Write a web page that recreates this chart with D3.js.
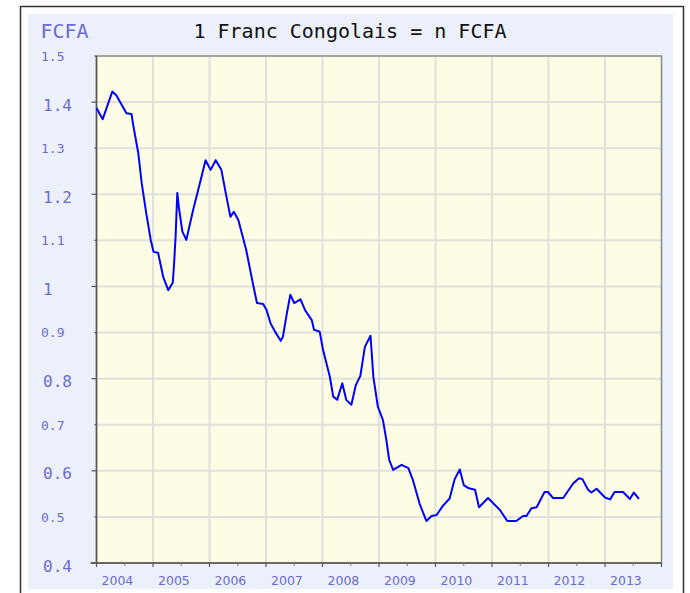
<!DOCTYPE html>
<html>
<head>
<meta charset="utf-8">
<script src="https://cdn.jsdelivr.net/npm/d3@7"></script>
<style>
  body { margin: 0; background: #fff; }
  svg { display: block; }
</style>
</head>
<body>
<script>
// chart values (decimal years -> FCFA per Franc Congolais)
var years = [
  2004.00, 2004.11, 2004.28, 2004.35, 2004.53, 2004.62, 2004.65, 2004.74, 2004.80, 2004.88,
  2004.96, 2005.01, 2005.09, 2005.18, 2005.27, 2005.35, 2005.37, 2005.40, 2005.43, 2005.46,
  2005.52, 2005.59, 2005.71, 2005.83, 2005.93, 2006.02, 2006.11, 2006.21, 2006.30, 2006.37,
  2006.43, 2006.51, 2006.65, 2006.77, 2006.84, 2006.95, 2007.01, 2007.08, 2007.16, 2007.26,
  2007.30, 2007.37, 2007.43, 2007.50, 2007.61, 2007.69, 2007.81, 2007.85, 2007.95, 2008.01,
  2008.13, 2008.19, 2008.26, 2008.35, 2008.42, 2008.51, 2008.59, 2008.67, 2008.75, 2008.85,
  2008.90, 2008.98, 2009.07, 2009.13, 2009.18, 2009.25, 2009.40, 2009.52, 2009.60, 2009.72,
  2009.84, 2009.93, 2010.02, 2010.13, 2010.25, 2010.34, 2010.43, 2010.50, 2010.59, 2010.70,
  2010.77, 2010.93, 2011.14, 2011.27, 2011.43, 2011.55, 2011.61, 2011.70, 2011.79, 2011.93,
  2011.99, 2012.08, 2012.26, 2012.44, 2012.54, 2012.60, 2012.70, 2012.76, 2012.85, 2013.00,
  2013.09, 2013.17, 2013.32, 2013.44, 2013.51, 2013.60
];
var rates = [
  1.387, 1.363, 1.423, 1.415, 1.376, 1.374, 1.350, 1.289, 1.224, 1.159,
  1.101, 1.075, 1.073, 1.021, 0.992, 1.008, 1.043, 1.108, 1.203, 1.170,
  1.119, 1.101, 1.166, 1.224, 1.274, 1.253, 1.274, 1.253, 1.195, 1.151,
  1.162, 1.144, 1.079, 1.005, 0.964, 0.962, 0.949, 0.920, 0.902, 0.882,
  0.891, 0.942, 0.982, 0.964, 0.972, 0.949, 0.927, 0.906, 0.902, 0.862,
  0.804, 0.761, 0.754, 0.790, 0.754, 0.743, 0.786, 0.806, 0.869, 0.893,
  0.804, 0.739, 0.710, 0.667, 0.624, 0.602, 0.613, 0.606, 0.580, 0.528,
  0.491, 0.502, 0.504, 0.524, 0.540, 0.582, 0.603, 0.569, 0.562, 0.559,
  0.521, 0.541, 0.515, 0.491, 0.491, 0.502, 0.502, 0.519, 0.521, 0.554,
  0.554, 0.541, 0.541, 0.573, 0.584, 0.582, 0.559, 0.553, 0.561, 0.542,
  0.538, 0.554, 0.554, 0.539, 0.553, 0.539
];
var yearLabels = ["2004", "2005", "2006", "2007", "2008", "2009", "2010", "2011", "2012", "2013"];
var yTicks = [1.5, 1.4, 1.3, 1.2, 1.1, 1, 0.9, 0.8, 0.7, 0.6, 0.5, 0.4];
var chartTitle = "1 Franc Congolais = n FCFA";
var unitLabel = "FCFA";

var width = 690, height = 593;
var plotLeft = 96.5, plotRight = 661.5, plotTop = 56, plotBottom = 563;
var labelColor = "#6b6bd3";

var svg = d3.select("body").append("svg")
    .attr("width", width)
    .attr("height", height);

// outer frame and panel
svg.append("rect")
    .attr("x", 20.5).attr("y", 6.5)
    .attr("width", 663).attr("height", 600)
    .attr("fill", "#fff")
    .attr("stroke", "#333")
    .attr("stroke-width", 1.5);

svg.append("rect")
    .attr("x", 28).attr("y", 14)
    .attr("width", 645).attr("height", 575)
    .attr("fill", "#ecf0fa");

// scales
var x = d3.scaleLinear().domain([2004, 2014]).range([plotLeft, plotRight]);
var y = d3.scaleLinear().domain([0.4, 1.5]).range([plotBottom, plotTop]);

// plot background
svg.append("rect")
    .attr("x", plotLeft).attr("y", plotTop)
    .attr("width", plotRight - plotLeft).attr("height", plotBottom - plotTop)
    .attr("fill", "#fdfde6");

// grid
svg.append("g").selectAll("line")
    .data(d3.range(2005, 2014))
    .enter().append("line")
    .attr("x1", d => x(d)).attr("x2", d => x(d))
    .attr("y1", plotTop).attr("y2", plotBottom)
    .attr("stroke", "#e0e0dc")
    .attr("stroke-width", 2);

svg.append("g").selectAll("line")
    .data(yTicks.slice(1, -1))
    .enter().append("line")
    .attr("x1", plotLeft).attr("x2", plotRight)
    .attr("y1", d => y(d)).attr("y2", d => y(d))
    .attr("stroke", "#e0e0dc")
    .attr("stroke-width", 2);

// plot border
svg.append("rect")
    .attr("x", plotLeft).attr("y", plotTop)
    .attr("width", plotRight - plotLeft).attr("height", plotBottom - plotTop)
    .attr("fill", "none")
    .attr("stroke", "#888")
    .attr("stroke-width", 1.5);

// axes lines
svg.append("line")
    .attr("x1", plotLeft).attr("x2", plotLeft)
    .attr("y1", plotTop).attr("y2", plotBottom)
    .attr("stroke", "#555").attr("stroke-width", 1.5);
svg.append("line")
    .attr("x1", plotLeft - 6).attr("x2", plotRight)
    .attr("y1", plotBottom).attr("y2", plotBottom)
    .attr("stroke", "#555").attr("stroke-width", 1.5);

// y ticks and labels (alternating sizes like the original)
yTicks.forEach(function (v, i) {
    var big = i % 2 === 1;
    svg.append("line")
        .attr("x1", plotLeft - (big ? 5 : 2)).attr("x2", plotLeft)
        .attr("y1", y(v)).attr("y2", y(v))
        .attr("stroke", "#555").attr("stroke-width", 1.2);
    svg.append("text")
        .attr("x", big ? 43 : 41)
        .attr("y", y(v) + (big ? 8.5 : 4.8))
        .attr("font-family", "DejaVu Sans Mono, monospace")
        .attr("font-size", big ? 16 : 13)
        .attr("fill", labelColor)
        .text(d3.format("")(v));
});

// x ticks: years and half years
svg.append("g").selectAll("line")
    .data(d3.range(2004, 2015))
    .enter().append("line")
    .attr("x1", d => x(d)).attr("x2", d => x(d))
    .attr("y1", plotBottom).attr("y2", plotBottom + 4)
    .attr("stroke", "#555").attr("stroke-width", 1.2);
svg.append("g").selectAll("line")
    .data(d3.range(2004.5, 2014, 1))
    .enter().append("line")
    .attr("x1", d => x(d)).attr("x2", d => x(d))
    .attr("y1", plotBottom).attr("y2", plotBottom + 3)
    .attr("stroke", "#777").attr("stroke-width", 1);

svg.append("g").selectAll("text")
    .data(yearLabels)
    .enter().append("text")
    .attr("x", d => x(+d) + 5)
    .attr("y", 585)
    .attr("font-family", "DejaVu Sans, sans-serif")
    .attr("font-size", 12.5)
    .attr("fill", labelColor)
    .text(d => d);

// the rate line
var line = d3.line()
    .x(function (d, i) { return x(years[i]); })
    .y(function (d) { return y(d); });

svg.append("path")
    .attr("d", line(rates))
    .attr("fill", "none")
    .attr("stroke", "#0000ff")
    .attr("stroke-width", 2)
    .attr("stroke-linejoin", "round");

// titles
svg.append("text")
    .attr("x", 350).attr("y", 38)
    .attr("text-anchor", "middle")
    .attr("font-family", "DejaVu Sans Mono, monospace")
    .attr("font-size", 20)
    .attr("fill", "#111")
    .text(chartTitle);

svg.append("text")
    .attr("x", 40.5).attr("y", 38)
    .attr("font-family", "DejaVu Sans Mono, monospace")
    .attr("font-size", 20)
    .attr("fill", labelColor)
    .text(unitLabel);
</script>
</body>
</html>
